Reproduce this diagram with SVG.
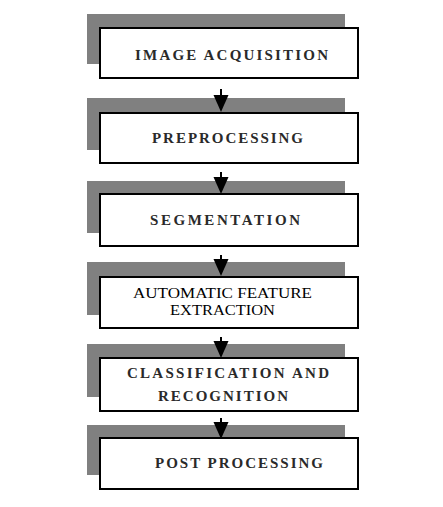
<svg xmlns="http://www.w3.org/2000/svg" width="443" height="507" viewBox="0 0 443 507">
<style>
.sh{fill:#808080}
.bx{fill:#fff;stroke:#000;stroke-width:2}
.lb{font-family:"Liberation Serif","DejaVu Serif","Times New Roman",serif;font-size:15px;font-weight:bold;fill:#2a2a2a}
.lt{font-family:"Liberation Serif","DejaVu Serif","Times New Roman",serif;font-size:15px;fill:#000}
.st{stroke:#000;stroke-width:2}
</style>
<defs>
<path id="ah" d="M-7.5,0 L7.5,0 L0,17 Z" fill="#000"/>
</defs>
<rect width="443" height="507" fill="#fff"/>
<g id="n1">
<rect class="sh" x="87" y="14" width="258" height="50"/>
<rect class="bx" x="100" y="28" width="258" height="50"/>
<text class="lb" x="135" y="60" textLength="193" lengthAdjust="spacing">IMAGE ACQUISITION</text>
</g>
<g id="n2">
<rect class="sh" x="87" y="98" width="258" height="52"/>
<rect class="bx" x="100" y="113" width="258" height="50"/>
<text class="lb" x="152" y="143" textLength="151" lengthAdjust="spacing">PREPROCESSING</text>
</g>
<g id="n3">
<rect class="sh" x="87" y="181" width="258" height="52"/>
<rect class="bx" x="100" y="194" width="258" height="52"/>
<text class="lb" x="150" y="225" textLength="150" lengthAdjust="spacing">SEGMENTATION</text>
</g>
<g id="n4">
<rect class="sh" x="87" y="262" width="258" height="53"/>
<rect class="bx" x="100" y="277" width="258" height="51"/>
<text class="lt" x="133" y="298" textLength="179" lengthAdjust="spacingAndGlyphs">AUTOMATIC FEATURE</text>
<text class="lt" x="170" y="315" textLength="105" lengthAdjust="spacingAndGlyphs">EXTRACTION</text>
</g>
<g id="n5">
<rect class="sh" x="87" y="344" width="258" height="53"/>
<rect class="bx" x="100" y="358" width="258" height="53"/>
<text class="lb" x="127" y="378" textLength="202" lengthAdjust="spacing">CLASSIFICATION AND</text>
<text class="lb" x="158" y="401" textLength="130" lengthAdjust="spacing">RECOGNITION</text>
</g>
<g id="n6">
<rect class="sh" x="87" y="425" width="258" height="50"/>
<rect class="bx" x="100" y="438" width="258" height="51"/>
<text class="lb" x="155" y="468" textLength="168" lengthAdjust="spacing">POST PROCESSING</text>
</g>
<g id="connectors">
<line class="st" x1="221" y1="89" x2="221" y2="96"/><use href="#ah" x="221" y="95"/>
<line class="st" x1="221" y1="172" x2="221" y2="178"/><use href="#ah" x="221" y="177"/>
<line class="st" x1="221" y1="255" x2="221" y2="260"/><use href="#ah" x="221" y="259"/>
<line class="st" x1="221" y1="337" x2="221" y2="342"/><use href="#ah" x="221" y="341"/>
<line class="st" x1="221" y1="418" x2="221" y2="423"/><use href="#ah" x="221" y="422"/>
</g>
</svg>
